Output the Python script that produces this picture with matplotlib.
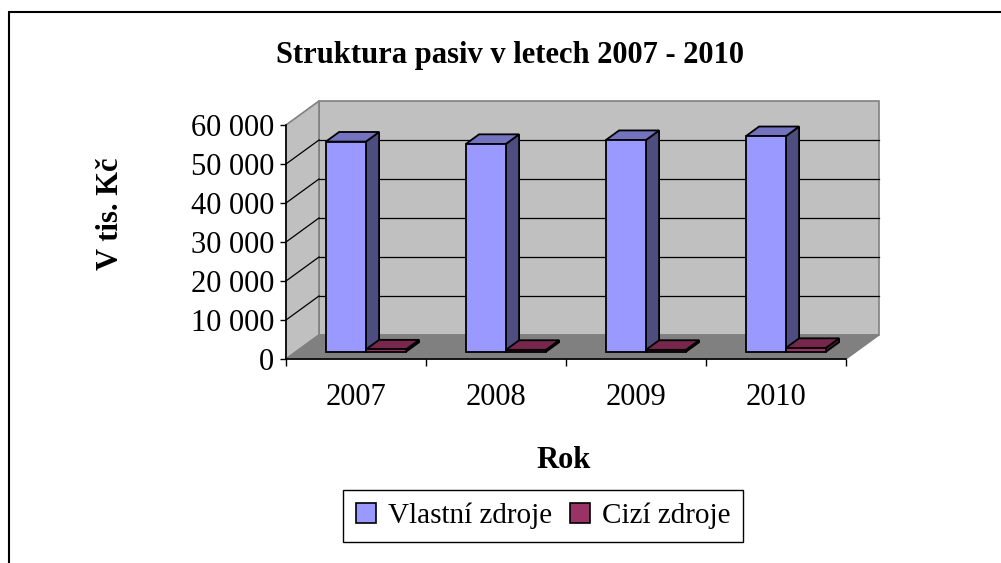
import matplotlib.pyplot as plt
from matplotlib.patches import Polygon, Patch, Rectangle

plt.rcParams['font.family'] = ['Liberation Serif', 'DejaVu Serif']

years = ['2007', '2008', '2009', '2010']
vlastni_zdroje = [53900, 53300, 54300, 55300]
cizi_zdroje = [600, 500, 500, 1000]
series_names = ['Vlastní zdroje', 'Cizí zdroje']
yticks = [0, 10000, 20000, 30000, 40000, 50000, 60000]
ytick_labels = ['0', '10 000', '20 000', '30 000', '40 000', '50 000', '60 000']

W, H = 1001, 563
YMAX = 60000


def fx(px):
    return px / W


def fy(py):
    return 1 - py / H


fig = plt.figure(figsize=(W / 100, H / 100), dpi=100)
fig.patch.set_facecolor('white')

# front plane of the 3d box
ax = fig.add_axes([fx(286), fy(359), (846 - 286) / W, (359 - 125) / H])
ax.set_xlim(-0.5, len(years) - 0.5)
ax.set_ylim(0, YMAX)
ax.set_facecolor('none')

# depth of the box in data units
DX = 33 / 140
DY = 24 / 234 * YMAX
x_left, x_right = -0.5, len(years) - 0.5


def poly(pts, fc, ec, lw, z):
    ax.add_patch(Polygon(pts, closed=True, facecolor=fc, edgecolor=ec,
                         linewidth=lw, zorder=z, clip_on=False,
                         joinstyle='miter'))


# walls + floor
poly([(x_left + DX, DY), (x_right + DX, DY), (x_right + DX, YMAX + DY),
      (x_left + DX, YMAX + DY)], '#c0c0c0', '#808080', 1.2, 1)
poly([(x_left, 0), (x_left + DX, DY), (x_left + DX, YMAX + DY),
      (x_left, YMAX)], '#c0c0c0', '#808080', 1.2, 1)
poly([(x_left, 0), (x_right, 0), (x_right + DX, DY), (x_left + DX, DY)],
     '#808080', '#808080', 1.0, 1)

# gridlines on back and side wall
for v in yticks[1:-1]:
    ax.plot([x_left + DX, x_right + DX], [v + DY, v + DY], color='black',
            lw=0.9, zorder=2, clip_on=False)
    ax.plot([x_left, x_left + DX], [v, v + DY], color='black',
            lw=0.9, zorder=2, clip_on=False)

# bars as 3d boxes
bw = 1 / 3.5
f0, f1 = 0.3, 0.7
colors = [('#9999ff', '#7373bf', '#4d4d80'),
          ('#993366', '#77264c', '#4d1a33')]


def box(x0, v, cols, z):
    ox0, oy0 = f0 * DX, f0 * DY
    ox1, oy1 = f1 * DX, f1 * DY
    front, top, side = cols
    poly([(x0 + bw + ox0, oy0), (x0 + bw + ox1, oy1), (x0 + bw + ox1, v + oy1),
          (x0 + bw + ox0, v + oy0)], side, 'black', 1.3, z)
    poly([(x0 + ox0, v + oy0), (x0 + bw + ox0, v + oy0),
          (x0 + bw + ox1, v + oy1), (x0 + ox1, v + oy1)], top, 'black', 1.3, z)
    poly([(x0 + ox0, oy0), (x0 + bw + ox0, oy0), (x0 + bw + ox0, v + oy0),
          (x0 + ox0, v + oy0)], front, 'black', 1.3, z)


z = 3
for i in range(len(years)):
    x0 = i - 0.5 + 0.75 * bw
    for s, vals in enumerate([vlastni_zdroje, cizi_zdroje]):
        box(x0 + s * bw, vals[i], colors[s], z)
        z += 1

# axes
for name in ['top', 'right']:
    ax.spines[name].set_visible(False)
for name in ['left', 'bottom']:
    ax.spines[name].set_color('black')
    ax.spines[name].set_linewidth(1.2)
    ax.spines[name].set_zorder(50)

ax.set_yticks(yticks)
ax.set_yticklabels(ytick_labels)
ax.tick_params(axis='y', direction='out', length=4.5, width=1, pad=4,
               labelsize=22)
ax.set_xticks([i - 0.5 for i in range(len(years) + 1)])
ax.set_xticklabels([])
ax.set_xticks(range(len(years)), minor=True)
ax.set_xticklabels(years, minor=True)
ax.tick_params(axis='x', which='major', direction='out', length=5, width=1)
ax.tick_params(axis='x', which='minor', length=0, pad=17, labelsize=22)

# texts
fig.text(fx(510), fy(55), 'Struktura pasiv v letech 2007 - 2010',
         ha='center', va='center', fontsize=22, fontweight='bold')
fig.text(fx(564), fy(460), 'Rok', ha='center', va='center',
         fontsize=22, fontweight='bold')
fig.text(fx(110), fy(214), 'V tis. Kč', ha='center', va='center',
         rotation=90, fontsize=22, fontweight='bold')

# legend
handles = [Patch(facecolor=colors[0][0], edgecolor='black', linewidth=1.2),
           Patch(facecolor=colors[1][0], edgecolor='black', linewidth=1.2)]
leg = fig.legend(handles, series_names, loc='center',
                 bbox_to_anchor=(fx(543), fy(516)), ncol=2, fontsize=21,
                 frameon=True, fancybox=False, edgecolor='black',
                 framealpha=1, handlelength=0.7, handleheight=0.7,
                 handletextpad=0.4, columnspacing=0.6, borderpad=0.45,
                 borderaxespad=0)
leg.get_frame().set_linewidth(1.0)

# chart border (cut off at right and bottom)
fig.add_artist(Rectangle((fx(9), -0.1), 1.2, fy(12) + 0.1,
                         transform=fig.transFigure, fill=False,
                         edgecolor='black', linewidth=1.5))

fig.savefig('out.png', dpi=100)
